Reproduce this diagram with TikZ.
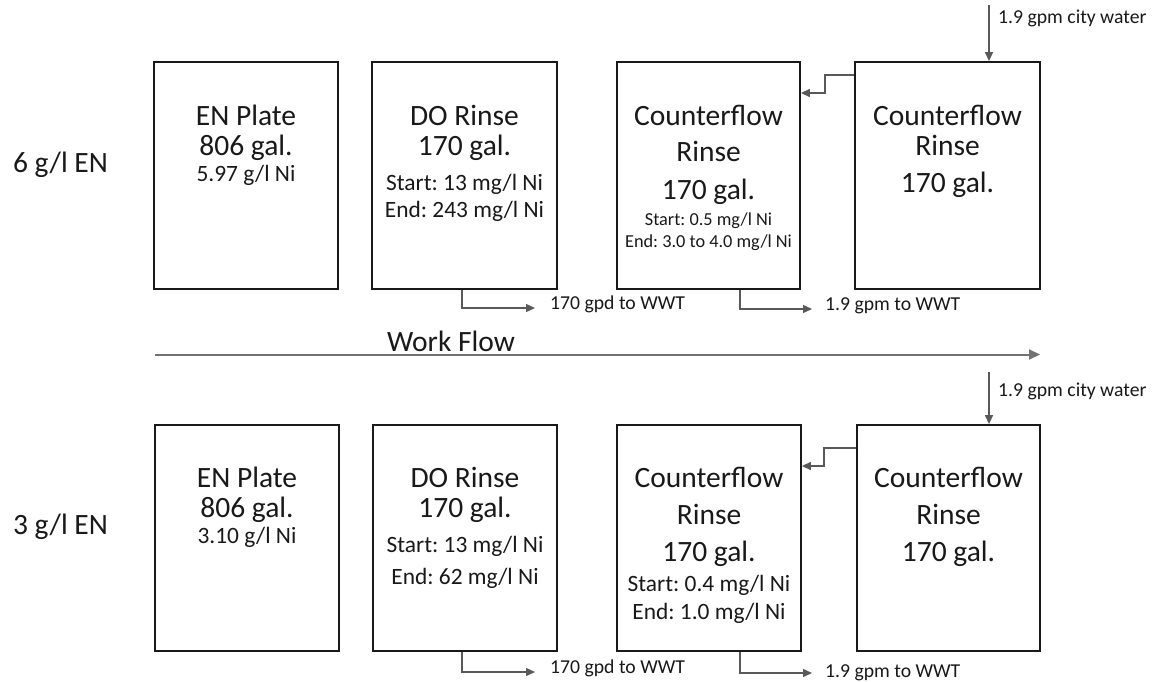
\documentclass[tikz,border=0pt]{standalone}
\usepackage{fontspec}
\setmainfont{Carlito}
\frenchspacing
\usetikzlibrary{arrows.meta}
\tikzset{
  tank/.style={draw=black!90, line width=1.8pt, minimum width=184pt, minimum height=227pt, inner sep=0pt},
  big/.style={anchor=base, inner sep=0pt, font=\fontsize{29.5}{30}\selectfont, text=black!90},
  mid/.style={anchor=base, inner sep=0pt, font=\fontsize{23.4}{24}\selectfont, text=black!90},
  small/.style={anchor=base, inner sep=0pt, font=\fontsize{18.3}{19}\selectfont, text=black!90},
  lbl/.style={anchor=base west, inner sep=0pt, font=\fontsize{19.7}{20}\selectfont, text=black!90},
  flow/.style={draw=black!65, line width=1.3pt, -{Triangle[length=9pt,width=8pt]}},
  wf/.style={draw=black!55, line width=2pt, -{Triangle[length=11pt,width=10pt]}}
}
\begin{document}
\begin{tikzpicture}[x=1pt,y=-1pt]
\useasboundingbox (0,0) rectangle (1156,681);
\fill[white] (0,0) rectangle (1156,681);

% ---------- top row ----------
\node[big] (r6) at (60.5,172) {6 g/l EN};
\node[tank] (en1) at (246,175.5) {};
\node[tank, minimum width=185pt] (do1) at (464.5,175.5) {};
\node[tank, minimum width=183pt] (cfa1) at (708.5,175.5) {};
\node[tank, minimum width=185pt] (cfb1) at (947.5,175.5) {};

\node[big] (en1a) at (246,125.5) {EN Plate};
\node[big] (en1b) at (246,155.5) {806 gal.};
\node[mid] (en1c) at (246,181) {5.97 g/l Ni};

\node[big] (do1a) at (464.5,125.5) {DO Rinse};
\node[big] (do1b) at (464.5,155.5) {170 gal.};
\node[mid] (do1c) at (464.5,190.5) {Start: 13 mg/l Ni};
\node[mid] (do1d) at (464.5,217.5) {End: 243 mg/l Ni};

\node[big] (cfa1a) at (708.5,125.5) {Counterflow};
\node[big] (cfa1b) at (708.5,161.5) {Rinse};
\node[big] (cfa1c) at (708.5,199.5) {170 gal.};
\node[small] (cfa1d) at (708.5,225) {Start: 0.5 mg/l Ni};
\node[small] (cfa1e) at (708.5,247) {End: 3.0 to 4.0 mg/l Ni};

\node[big] (cfb1a) at (947.5,125.5) {Counterflow};
\node[big] (cfb1b) at (947.5,155.5) {Rinse};
\node[big] (cfb1c) at (947.5,192.5) {170 gal.};

\coordinate (cw1) at (989,5);
\draw[flow] (cw1) -- (cw1 |- cfb1.north);
\node[lbl] (cw1l) at (998,23.5) {1.9 gpm city water};

\coordinate (fb1a) at (825,75);
\coordinate (fb1b) at (825,93);
\draw[flow] (cfb1.west |- fb1a) -- (fb1a) -- (fb1b) -- (cfa1.east |- fb1b);

\coordinate (o1a) at (462,308);
\coordinate (o1b) at (535,308);
\draw[flow] (do1.south -| o1a) -- (o1a) -- (o1b);
\node[lbl] (o1l) at (550,309.5) {170 gpd to WWT};

\coordinate (o2a) at (740,309);
\coordinate (o2b) at (812,309);
\draw[flow] (cfa1.south -| o2a) -- (o2a) -- (o2b);
\node[lbl] (o2l) at (825,310.5) {1.9 gpm to WWT};

% ---------- work flow ----------
\coordinate (wfs) at (155,354.5);
\coordinate (wfe) at (1040,354.5);
\draw[wf] (wfs) -- (wfe);
\node[big] (wfl) at (451,351) {Work Flow};

% ---------- bottom row ----------
\node[big] (r3) at (60.5,534) {3 g/l EN};
\node[tank, minimum height=226pt] (en2) at (247,538) {};
\node[tank, minimum height=226pt] (do2) at (465,538) {};
\node[tank, minimum height=226pt] (cfa2) at (709,538) {};
\node[tank, minimum height=226pt, minimum width=183pt] (cfb2) at (948.5,538) {};

\node[big] (en2a) at (247,487.5) {EN Plate};
\node[big] (en2b) at (247,517.5) {806 gal.};
\node[mid] (en2c) at (247,543) {3.10 g/l Ni};

\node[big] (do2a) at (465,487.5) {DO Rinse};
\node[big] (do2b) at (465,517.5) {170 gal.};
\node[mid] (do2c) at (465,552.5) {Start: 13 mg/l Ni};
\node[mid] (do2d) at (465,584.5) {End: 62 mg/l Ni};

\node[big] (cfa2a) at (709,487.5) {Counterflow};
\node[big] (cfa2b) at (709,524.5) {Rinse};
\node[big] (cfa2c) at (709,561.5) {170 gal.};
\node[mid] (cfa2d) at (709,591.5) {Start: 0.4 mg/l Ni};
\node[mid] (cfa2e) at (709,619.5) {End: 1.0 mg/l Ni};

\node[big] (cfb2a) at (948.5,487.5) {Counterflow};
\node[big] (cfb2b) at (948.5,524.5) {Rinse};
\node[big] (cfb2c) at (948.5,561.5) {170 gal.};

\coordinate (cw2) at (989,372);
\draw[flow] (cw2) -- (cw2 |- cfb2.north);
\node[lbl] (cw2l) at (998,396.5) {1.9 gpm city water};

\coordinate (fb2a) at (824,448);
\coordinate (fb2b) at (824,466);
\draw[flow] (cfb2.west |- fb2a) -- (fb2a) -- (fb2b) -- (cfa2.east |- fb2b);

\coordinate (o3a) at (462,672);
\coordinate (o3b) at (535,672);
\draw[flow] (do2.south -| o3a) -- (o3a) -- (o3b);
\node[lbl] (o3l) at (550,673.5) {170 gpd to WWT};

\coordinate (o4a) at (740,673);
\coordinate (o4b) at (812,673);
\draw[flow] (cfa2.south -| o4a) -- (o4a) -- (o4b);
\node[lbl] (o4l) at (825,677) {1.9 gpm to WWT};
\end{tikzpicture}
\end{document}
